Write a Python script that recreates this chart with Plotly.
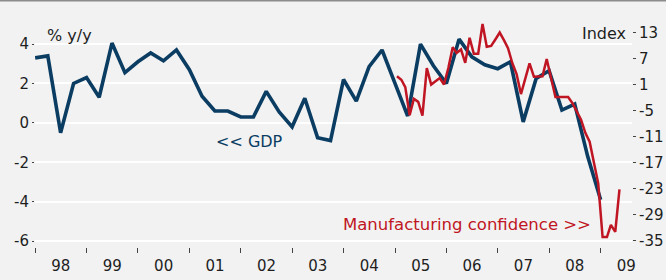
import plotly.graph_objects as go

# ---------------- data ----------------
gdp_quarters = [f"{y}-{m:02d}-01" for y in range(1998, 2010) for m in (1, 4, 7, 10)][:45]
gdp_values = [
    3.3, 3.4, -0.5, 2.0,      # 1998
    2.3, 1.3, 4.05, 2.55,     # 1999
    3.1, 3.55, 3.15, 3.7,     # 2000
    2.7, 1.35, 0.6, 0.6,      # 2001
    0.3, 0.3, 1.6, 0.55,      # 2002
    -0.2, 1.25, -0.75, -0.9,  # 2003
    2.2, 1.1, 2.85, 3.7,      # 2004
    2.0, 0.35, 4.0, 2.9,      # 2005
    2.0, 4.25, 3.35, 2.95,    # 2006
    2.75, 3.1, 0.05, 2.25,    # 2007
    2.65, 0.65, 0.95, -1.7,   # 2008
    -3.9,                     # 2009
]

conf_months = [f"{y}-{m:02d}-15" for y in range(2005, 2010) for m in range(1, 13)][:53]
conf_values = [
    3.0, 2.2, 0.5, -6.0, -2.2, -2.9, -6.1, 4.9, 1.1, 1.9, 2.6, 1.1,        # 2005
    4.9, 9.7, 8.4, 9.2, 6.1, 11.9, 8.2, 8.2, 15.1, 9.8, 10.0, 11.5,        # 2006
    13.1, 11.3, 9.5, 6.0, 3.5, -1.1, 2.5, 6.0, 2.9, 2.9, 3.0, 7.0,         # 2007
    2.5, -1.8, -1.8, -1.8, -1.8, -3.2, -5.2, -7.0, -10.1, -12.1, -17.0, -21.7,  # 2008
    -34.1, -34.1, -31.3, -32.9, -23.1,                                     # 2009
]

left_ticks = [4, 2, 0, -2, -4, -6]
left_labels = ["4", "2", "0", "-2", "-4", "-6"]
right_ticks = [13, 7, 1, -5, -11, -17, -23, -29, -35]
right_labels = ["13", "7", "1", "-5", "-11", "-17", "-23", "-29", "-35"]

NAVY = "#0b3d63"
RED = "#c01523"
BG = "#f2f2f2"
TXT = "#1e1e1e"
FONT = "DejaVu Sans"

# ---------------- layout geometry ----------------
W, H = 666, 280
L, R, T, B = 35, 34, 22, 33
PW = W - L - R
PH = H - T - B


def px_x(x):
    return (x - L) / PW


def px_y(y):
    return (H - B - y) / PH


fig = go.Figure()
fig.add_trace(go.Scatter(
    x=gdp_quarters, y=gdp_values, mode="lines", name="GDP",
    line=dict(color=NAVY, width=3.6), yaxis="y", showlegend=False,
))
fig.add_trace(go.Scatter(
    x=conf_months, y=conf_values, mode="lines", name="Manufacturing confidence",
    line=dict(color=RED, width=2.5), yaxis="y2", showlegend=False,
))

fig.update_layout(
    width=W, height=H,
    margin=dict(l=L, r=R, t=T, b=B, autoexpand=False),
    paper_bgcolor=BG, plot_bgcolor=BG,
    font=dict(family=FONT, size=14, color=TXT),
    xaxis=dict(
        type="date",
        range=["1997-12-31", "2009-08-12"],
        tick0="1998-01-01", dtick="M12", tickformat="%y",
        ticklabelmode="period",
        ticks="outside", ticklen=5, tickwidth=1, tickcolor="#444",
        showgrid=False, zeroline=False, showline=False,
        tickfont=dict(size=15, color=TXT),
    ),
    yaxis=dict(
        range=[-6.3, 5.12],
        tickvals=left_ticks, ticktext=left_labels,
        ticks="outside", ticklen=2, tickwidth=1, tickcolor="#444",
        showgrid=True, gridcolor="white", gridwidth=2,
        zeroline=False, showline=False,
        tickfont=dict(size=15, color=TXT),
    ),
    yaxis2=dict(
        overlaying="y", side="right",
        range=[-36.4, 15.53],
        tickvals=right_ticks, ticktext=right_labels,
        ticks="outside", ticklen=3, tickwidth=1, tickcolor="#444",
        showgrid=False, zeroline=False, showline=False,
        tickfont=dict(size=15, color=TXT),
    ),
    shapes=[dict(
        type="line", xref="paper", yref="paper",
        x0=px_x(0), x1=px_x(W), y0=px_y(0.8), y1=px_y(0.8),
        line=dict(color="#8c8c8c", width=1.5),
    )],
    annotations=[
        dict(text="% y/y", xref="paper", yref="paper", x=px_x(45), y=px_y(35),
             xanchor="left", yanchor="middle", showarrow=False,
             font=dict(size=16, color=TXT)),
        dict(text="Index", xref="paper", yref="paper", x=px_x(628), y=px_y(33),
             xanchor="right", yanchor="middle", showarrow=False,
             font=dict(size=16, color=TXT)),
        dict(text="&lt;&lt; GDP", xref="paper", yref="paper", x=px_x(214), y=px_y(141),
             xanchor="left", yanchor="middle", showarrow=False,
             font=dict(size=16, color=NAVY)),
        dict(text="Manufacturing confidence &gt;&gt;", xref="paper", yref="paper",
             x=px_x(593), y=px_y(224),
             xanchor="right", yanchor="middle", showarrow=False,
             font=dict(size=16.5, color=RED)),
    ],
)

fig.write_html(
    "out.html",
    config={"displayModeBar": False},
    post_script="document.body.style.margin='0px';",
)
